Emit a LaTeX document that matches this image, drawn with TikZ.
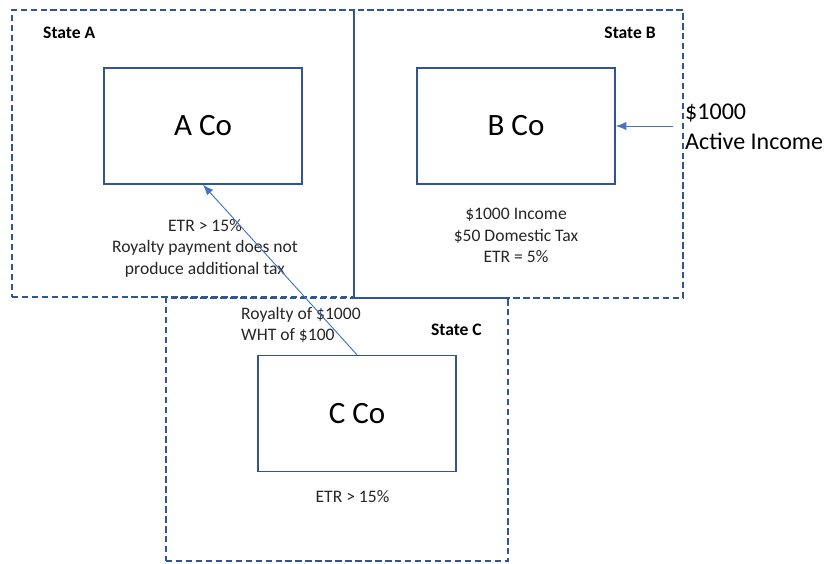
\documentclass[tikz,border=0pt]{standalone}
\usepackage{fontspec}
\setmainfont{Carlito}
\usetikzlibrary{arrows.meta, positioning}
\definecolor{edgeblue}{HTML}{2F5597}
\definecolor{flowblue}{HTML}{4472C4}
\tikzset{
  region/.style={draw=edgeblue, line width=1.1pt, dash pattern=on 5.5pt off 3pt, inner sep=0pt},
  firm/.style={draw=edgeblue, line width=1.2pt, minimum width=59.4mm, minimum height=34.8mm, inner sep=0pt, font=\fontsize{26.5}{30}\selectfont},
  rlab/.style={font=\bfseries\fontsize{15}{18}\selectfont, inner sep=0pt},
  note/.style={align=center, text=black!85, font=\fontsize{15}{18.4}\selectfont, inner sep=0pt},
  flow/.style={-{Latex[length=9pt, width=7pt]}, draw=flowblue, line width=0.8pt}
}
\begin{document}
\begin{tikzpicture}[x=0.3mm, y=-0.3mm]
	\useasboundingbox (0,0) rectangle (827,563);
	% states
	\node[region, minimum width=102.6mm, minimum height=86.1mm] (sa) at (183,153.5) {};
	\node[region, minimum width=98.7mm, minimum height=86.4mm] (sb) at (518.5,154) {};
	\node[region, minimum width=102.6mm, minimum height=78.9mm] (sc) at (337,429.5) {};
	\node[rlab, anchor=west] (la) at (43,33) {State A};
	\node[rlab, anchor=east] (lb) at (656,33) {State B};
	\node[rlab, anchor=east] (lc) at (482,330) {State C};
	% companies
	\node[firm] (aco) at (203,126) {A Co};
	\node[firm] (bco) at (516,126) {B Co};
	\node[firm] (cco) at (357,413.5) {C Co};
	% notes
	\node[note] (na) at (205,248) {ETR > 15\%\\Royalty payment does not\\produce additional tax};
	\node[note] (nb) at (516,235.5) {\$1000 Income\\\$50 Domestic Tax\\ETR = 5\%};
	\node[note] (nc) at (352.5,497) {ETR > 15\%};
	\node[note, align=left, anchor=west] (roy) at (241,325) {Royalty of \$1000\\WHT of \$100};
	\node[align=left, anchor=west, inner sep=0pt, font=\fontsize{20.5}{25.6}\selectfont] (inc) at (685,127) {\$1000\\Active Income};
	\coordinate (src) at (673,126);
	% flows
	\draw[flow] (cco.north) -- (aco.south);
	\draw[flow] (src) -- (bco.east);
\end{tikzpicture}
\end{document}
